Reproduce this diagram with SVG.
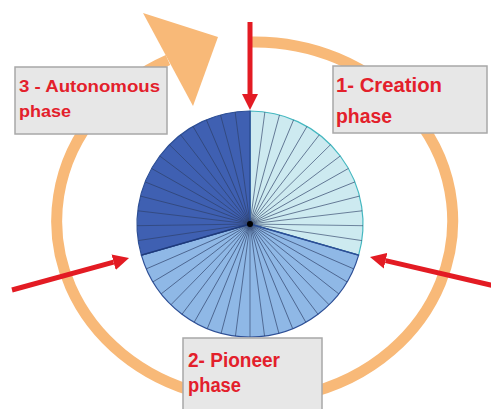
<svg xmlns="http://www.w3.org/2000/svg" xmlns:xlink="http://www.w3.org/1999/xlink" width="491" height="409" viewBox="0 0 491 409">
<style>
.box{fill:#e7e7e7;stroke:#a8a8a8;stroke-width:1.5}
.lbl{font-family:"Liberation Sans",Arial,sans-serif;font-weight:bold;fill:#e3202b}
.red{stroke:#e31b23;stroke-width:5;fill:none}
.rad{stroke:#2c3e66;stroke-width:0.8;stroke-opacity:0.75}
</style>
<defs>
<marker id="head" markerUnits="userSpaceOnUse" markerWidth="18" markerHeight="18" refX="0" refY="8" orient="auto" viewBox="0 0 18 16">
<path d="M0,0 L16,8 L0,16 z" fill="#e31b23"/>
</marker>
<line id="r" x1="250" y1="224" x2="250" y2="111"/>
</defs>
<g id="connectors">
<path id="cycle" d="M249,42 A198 179 0 1 1 168,60" fill="none" stroke="#f8b978" stroke-width="11"/>
<polygon points="143,13 218,37 193,106" fill="#f8b978"/>
</g>
<g id="pie">
<path d="M250,224 L250,111 A113,113 0 0 1 358.62,255.15 Z" fill="#cdeaf0" stroke="#45b8c0" stroke-width="1.2"/>
<path d="M250,224 L358.62,255.15 A113,113 0 0 1 141.38,255.15 Z" fill="#8fb8e6" stroke="#2d4f96" stroke-width="1.2"/>
<path d="M250,224 L141.38,255.15 A113,113 0 0 1 250,111 Z" fill="#3f60b2" stroke="#2d4f96" stroke-width="1.2"/>
<g class="rad">
<use xlink:href="#r" transform="rotate(7.57 250 224)"/>
<use xlink:href="#r" transform="rotate(15.14 250 224)"/>
<use xlink:href="#r" transform="rotate(22.71 250 224)"/>
<use xlink:href="#r" transform="rotate(30.29 250 224)"/>
<use xlink:href="#r" transform="rotate(37.86 250 224)"/>
<use xlink:href="#r" transform="rotate(45.43 250 224)"/>
<use xlink:href="#r" transform="rotate(53 250 224)"/>
<use xlink:href="#r" transform="rotate(60.57 250 224)"/>
<use xlink:href="#r" transform="rotate(68.14 250 224)"/>
<use xlink:href="#r" transform="rotate(75.71 250 224)"/>
<use xlink:href="#r" transform="rotate(83.29 250 224)"/>
<use xlink:href="#r" transform="rotate(90.86 250 224)"/>
<use xlink:href="#r" transform="rotate(98.43 250 224)"/>
<use xlink:href="#r" transform="rotate(113.4 250 224)"/>
<use xlink:href="#r" transform="rotate(120.8 250 224)"/>
<use xlink:href="#r" transform="rotate(128.2 250 224)"/>
<use xlink:href="#r" transform="rotate(135.6 250 224)"/>
<use xlink:href="#r" transform="rotate(143 250 224)"/>
<use xlink:href="#r" transform="rotate(150.4 250 224)"/>
<use xlink:href="#r" transform="rotate(157.8 250 224)"/>
<use xlink:href="#r" transform="rotate(165.2 250 224)"/>
<use xlink:href="#r" transform="rotate(172.6 250 224)"/>
<use xlink:href="#r" transform="rotate(180 250 224)"/>
<use xlink:href="#r" transform="rotate(187.4 250 224)"/>
<use xlink:href="#r" transform="rotate(194.8 250 224)"/>
<use xlink:href="#r" transform="rotate(202.2 250 224)"/>
<use xlink:href="#r" transform="rotate(209.6 250 224)"/>
<use xlink:href="#r" transform="rotate(217 250 224)"/>
<use xlink:href="#r" transform="rotate(224.4 250 224)"/>
<use xlink:href="#r" transform="rotate(231.8 250 224)"/>
<use xlink:href="#r" transform="rotate(239.2 250 224)"/>
<use xlink:href="#r" transform="rotate(246.6 250 224)"/>
<use xlink:href="#r" transform="rotate(261.57 250 224)"/>
<use xlink:href="#r" transform="rotate(269.14 250 224)"/>
<use xlink:href="#r" transform="rotate(276.71 250 224)"/>
<use xlink:href="#r" transform="rotate(284.29 250 224)"/>
<use xlink:href="#r" transform="rotate(291.86 250 224)"/>
<use xlink:href="#r" transform="rotate(299.43 250 224)"/>
<use xlink:href="#r" transform="rotate(307 250 224)"/>
<use xlink:href="#r" transform="rotate(314.57 250 224)"/>
<use xlink:href="#r" transform="rotate(322.14 250 224)"/>
<use xlink:href="#r" transform="rotate(329.71 250 224)"/>
<use xlink:href="#r" transform="rotate(337.29 250 224)"/>
<use xlink:href="#r" transform="rotate(344.86 250 224)"/>
<use xlink:href="#r" transform="rotate(352.43 250 224)"/>
</g>
<line x1="250" y1="224" x2="358.62" y2="255.15" stroke="#2d4f96" stroke-width="1.5"/>
<line x1="250" y1="224" x2="141.38" y2="255.15" stroke="#1f3a7a" stroke-width="1.5"/>
<line x1="250" y1="224" x2="250" y2="111" stroke="#2d4f96" stroke-width="1"/>
<circle cx="250" cy="224" r="3" fill="#000"/>
</g>
<g id="arrows">
<line class="red" x1="250" y1="22" x2="250" y2="94" marker-end="url(#head)"/>
<line class="red" x1="12" y1="290" x2="113.6" y2="262.2" marker-end="url(#head)"/>
<line class="red" x1="495" y1="286" x2="385.6" y2="260.6" marker-end="url(#head)"/>
</g>
<g id="node-autonomous">
<rect class="box" x="15" y="67" width="152" height="67"/>
<text class="lbl" x="19" y="92" font-size="16" textLength="141" lengthAdjust="spacingAndGlyphs">3 - Autonomous</text>
<text class="lbl" x="19" y="117" font-size="16" textLength="52" lengthAdjust="spacingAndGlyphs">phase</text>
</g>
<g id="node-creation">
<rect class="box" x="333" y="66" width="154" height="67"/>
<text class="lbl" x="336" y="92" font-size="20" textLength="106" lengthAdjust="spacingAndGlyphs">1- Creation</text>
<text class="lbl" x="336" y="123" font-size="20" textLength="56" lengthAdjust="spacingAndGlyphs">phase</text>
</g>
<g id="node-pioneer">
<rect class="box" x="183" y="338" width="139" height="80"/>
<text class="lbl" x="188" y="367" font-size="20" textLength="92" lengthAdjust="spacingAndGlyphs">2- Pioneer</text>
<text class="lbl" x="188" y="392" font-size="20" textLength="53" lengthAdjust="spacingAndGlyphs">phase</text>
</g>
</svg>
